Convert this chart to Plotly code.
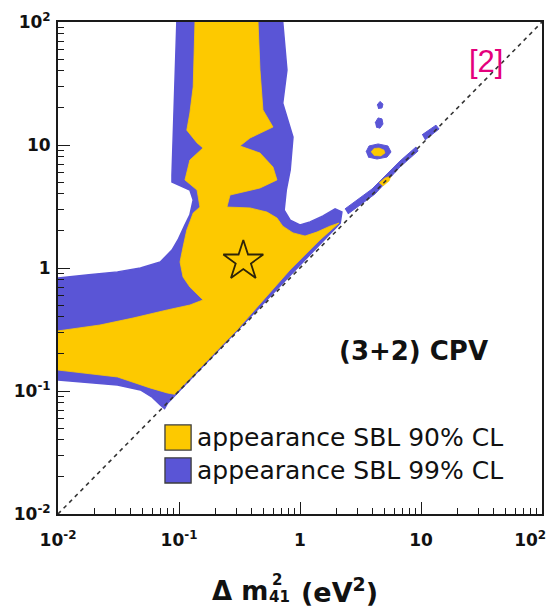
import plotly.graph_objects as go

# ---------------------------------------------------------------
# Allowed regions in the (dm2_41, dm2_51) plane, (3+2) CPV fit
# Contours are listed as boundary vertices (eV^2).
# ---------------------------------------------------------------

# 99% CL appearance SBL - main region
cl99_dm41 = [0.096, 0.093, 0.089, 0.0875, 0.0875, 0.123, 0.131, 0.123, 0.112, 0.098,
             0.0875, 0.070, 0.048, 0.031, 0.018, 0.01, 0.01, 0.018, 0.031, 0.048,
             0.060, 0.070, 0.076, 0.080, 2.15, 2.22, 1.95, 1.55, 1.21, 1.0,
             0.83, 0.74, 0.77, 0.83, 0.875, 0.72, 0.78, 0.72]
cl99_dm51 = [100, 40.7, 13.2, 5.7, 5.0, 4.3, 3.57, 2.70, 2.24, 1.69,
             1.40, 1.12, 1.0, 0.93, 0.88, 0.83, 0.123, 0.118, 0.112, 0.102,
             0.089, 0.077, 0.072, 0.079, 2.32, 2.85, 3.02, 2.65, 2.37, 2.24,
             2.45, 2.96, 4.3, 6.27, 11.6, 21.9, 40.7, 100]

# 99% CL - isolated islands at large dm2_41
cl99_isl_a_dm41 = [4.33, 4.58, 4.85, 4.76, 4.42]
cl99_isl_a_dm51 = [21.1, 22.6, 21.5, 20.0, 19.8]
cl99_isl_b_dm41 = [4.17, 4.42, 4.76, 4.85, 4.58, 4.25]
cl99_isl_b_dm51 = [15.1, 16.6, 16.3, 14.8, 13.7, 14.0]
cl99_isl_c_dm41 = [3.51, 3.72, 4.42, 5.33, 5.65, 5.24, 4.33, 3.65]
cl99_isl_c_dm51 = [8.77, 9.82, 10.2, 9.82, 8.77, 7.98, 7.69, 7.98]
cl99_strip_a_dm41 = [2.35, 3.94, 6.70, 9.10, 9.45, 6.70, 4.17, 2.49]
cl99_strip_a_dm51 = [3.02, 4.39, 7.41, 9.64, 8.93, 6.62, 4.00, 2.75]
cl99_strip_b_dm41 = [10.2, 13.3, 14.1, 10.8]
cl99_strip_b_dm51 = [12.1, 14.5, 13.5, 11.0]

# 90% CL appearance SBL - main region
cl90_dm41 = [0.1355, 0.131, 0.123, 0.116, 0.141, 0.158, 0.123, 0.112, 0.141, 0.149,
             0.131, 0.116, 0.108, 0.102, 0.108, 0.123, 0.158, 0.123, 0.080, 0.0417,
             0.0222, 0.01, 0.01, 0.031, 0.0575, 0.080, 0.092, 0.301, 0.826, 1.46,
             2.10, 1.77, 1.38, 1.10, 0.875, 0.72, 0.645, 0.533, 0.386, 0.249,
             0.264, 0.467, 0.645, 0.598, 0.467, 0.319, 0.386, 0.598, 0.494, 0.467,
             0.45]
cl90_dm51 = [100, 29.7, 18.2, 13.2, 10.4, 9.46, 7.55, 5.2, 4.3, 3.13,
             2.80, 2.04, 1.48, 1.12, 0.845, 0.70, 0.55, 0.50, 0.456, 0.392,
             0.344, 0.308, 0.148, 0.130, 0.106, 0.0964, 0.094, 0.313, 0.964, 1.69,
             2.32, 2.19, 1.96, 1.82, 1.93, 2.19, 2.55, 2.85, 3.08, 3.13,
             3.92, 4.47, 5.2, 6.62, 8.61, 9.82, 11.4, 14.0, 19.3, 40.7,
             100]

# 90% CL - islands
cl90_isl_c_dm41 = [3.86, 4.09, 4.50, 4.94, 5.04, 4.66, 4.09]
cl90_isl_c_dm51 = [8.77, 9.37, 9.46, 9.10, 8.61, 8.14, 8.23]
cl90_strip_dm41 = [4.50, 5.04, 5.65, 5.45, 4.85]
cl90_strip_dm51 = [4.91, 5.40, 5.60, 5.10, 4.64]

# best-fit point
best_dm41 = [0.34]
best_dm51 = [1.14]

# dm2_51 = dm2_41 reference line
diag_dm41 = [0.01, 100]
diag_dm51 = [0.01, 100]

# axis ticks
major_ticks = [0.01, 0.1, 1, 10, 100]
tick_labels = ["10<sup>-2</sup>", "10<sup>-1</sup>", "1", "10", "10<sup>2</sup>"]
minor_ticks = [m * 10.0 ** e for e in range(-2, 2) for m in range(2, 10)]

legend_labels = ["appearance SBL 90% CL", "appearance SBL 99% CL"]

YELLOW = "#FDC900"
BLUE = "#5A55D6"
FONT = "DejaVu Sans, sans-serif"
LABEL_FONT = "Liberation Sans, Arial, sans-serif"

fig = go.Figure()


def region(xs, ys, color, edge):
    fig.add_trace(go.Scatter(
        x=xs, y=ys, mode="lines", fill="toself", fillcolor=color,
        line=dict(width=edge, color=color), hoverinfo="skip", showlegend=False))


# 99% CL first, 90% CL drawn on top
region(cl99_dm41, cl99_dm51, BLUE, 1.5)
region(cl99_isl_a_dm41, cl99_isl_a_dm51, BLUE, 1.0)
region(cl99_isl_b_dm41, cl99_isl_b_dm51, BLUE, 1.0)
region(cl99_isl_c_dm41, cl99_isl_c_dm51, BLUE, 1.0)
region(cl99_strip_a_dm41, cl99_strip_a_dm51, BLUE, 1.0)
region(cl99_strip_b_dm41, cl99_strip_b_dm51, BLUE, 1.0)
region(cl90_dm41, cl90_dm51, YELLOW, 0.8)
region(cl90_isl_c_dm41, cl90_isl_c_dm51, YELLOW, 0.6)
region(cl90_strip_dm41, cl90_strip_dm51, YELLOW, 0.6)

# diagonal
fig.add_trace(go.Scatter(
    x=diag_dm41, y=diag_dm51, mode="lines",
    line=dict(color="#333333", width=1.6, dash="4px,4px"),
    hoverinfo="skip", showlegend=False))

# best-fit star
fig.add_trace(go.Scatter(
    x=best_dm41, y=best_dm51, mode="markers",
    marker=dict(symbol="star-open", size=30, color="#2e2408",
                line=dict(width=1.8, color="#2e2408")),
    hoverinfo="skip", showlegend=False))

axis_common = dict(
    type="log", range=[-2, 2], automargin=False, ticklabeloverflow="allow",
    showgrid=False, zeroline=False,
    showline=True, linecolor="#1a1a1a", linewidth=2, mirror=True,
    ticks="inside", ticklen=12, tickwidth=1.3, tickcolor="#1a1a1a",
    tickvals=major_ticks, ticktext=tick_labels,
    tickfont=dict(family=FONT, size=17, color="#111", weight="bold"),
    minor=dict(ticks="inside", ticklen=6, tickwidth=1, tickcolor="#1a1a1a",
               tickvals=minor_ticks, showgrid=False),
)

# last x label is pulled in from the page edge with trailing padding
x_tick_text = tick_labels[:-1] + [tick_labels[-1] + "&nbsp;" * 4]

fig.update_layout(
    width=556, height=607,
    margin=dict(l=58, r=14, t=22, b=93),
    paper_bgcolor="white", plot_bgcolor="white",
    xaxis=dict(axis_common, ticktext=x_tick_text, ticklabelstandoff=10),
    yaxis=dict(axis_common, ticklabelstandoff=2),
    showlegend=False,
)

# legend drawn as boxes + labels inside the frame
box_rows = [(0.130, 0.181, YELLOW), (0.063, 0.114, BLUE)]
for (y0, y1, col) in box_rows:
    fig.add_shape(type="rect", xref="paper", yref="paper",
                  x0=0.221, x1=0.275, y0=y0, y1=y1,
                  fillcolor=col, line=dict(color="#3d3d3d", width=1.3))
for label, yc in zip(legend_labels, [0.1565, 0.0894]):
    fig.add_annotation(text=label, xref="paper", yref="paper", x=0.283, y=yc,
                       xanchor="left", yanchor="middle", showarrow=False,
                       font=dict(family=FONT, size=25, color="#111"))

fig.add_annotation(text="(3+2) CPV", xref="paper", yref="paper", x=0.735, y=0.331,
                   xanchor="center", yanchor="middle", showarrow=False,
                   font=dict(family=FONT, size=26, color="#111", weight="bold"))

fig.add_annotation(text="[2]", xref="paper", yref="paper", x=0.884, y=0.919,
                   xanchor="center", yanchor="middle", showarrow=False,
                   font=dict(family=LABEL_FONT, size=31, color="#E4007C"))

# x-axis title with stacked super/subscript
title_font = dict(family=FONT, size=26, color="#111", weight="bold")
small_font = dict(family=FONT, size=15, color="#111", weight="bold")
fig.add_annotation(text="\u0394 m", xref="paper", yref="paper", x=0.437, y=-0.1565,
                   xanchor="right", yanchor="middle", showarrow=False, font=title_font)
fig.add_annotation(text="2", xref="paper", yref="paper", x=0.453, y=-0.135,
                   xanchor="center", yanchor="middle", showarrow=False, font=small_font)
fig.add_annotation(text="41", xref="paper", yref="paper", x=0.457, y=-0.168,
                   xanchor="center", yanchor="middle", showarrow=False, font=small_font)
fig.add_annotation(text="(eV<sup>2</sup>)", xref="paper", yref="paper", x=0.498, y=-0.1565,
                   xanchor="left", yanchor="middle", showarrow=False,
                   font=dict(family=FONT, size=27, color="#111", weight="bold"))

fig.write_html("out.html")
